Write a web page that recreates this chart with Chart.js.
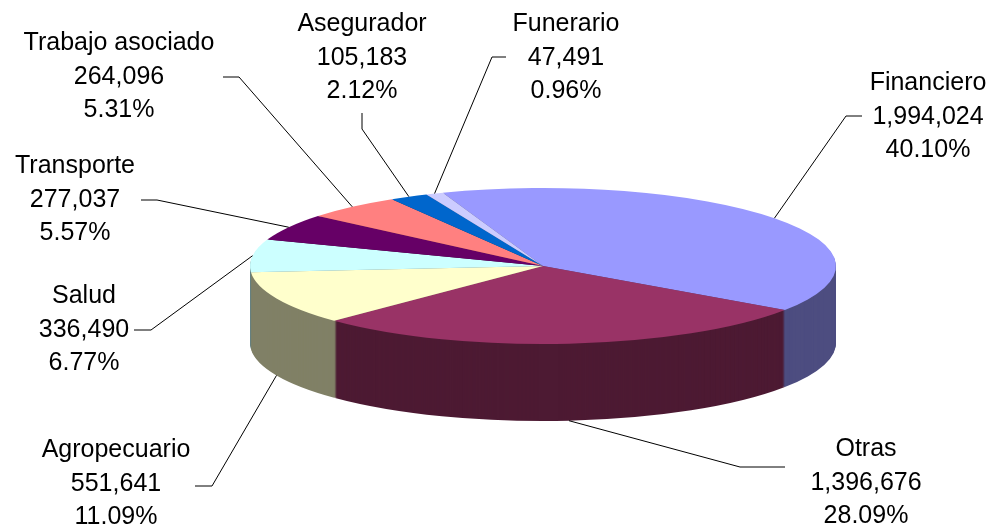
<!DOCTYPE html>
<html>
<head>
<meta charset="utf-8">
<style>
html, body { margin: 0; padding: 0; background: #fff; }
#wrap { width: 995px; height: 532px; }
</style>
<script src="https://cdn.jsdelivr.net/npm/chart.js@4"></script>
</head>
<body>
<div id="wrap"><canvas id="myChart" width="995" height="532"></canvas></div>
<script>
const categories = ["Financiero", "Otras", "Agropecuario", "Salud", "Transporte", "Trabajo asociado", "Asegurador", "Funerario"];
const values = [1994024, 1396676, 551641, 336490, 277037, 264096, 105183, 47491];
const percents = ["40.10%", "28.09%", "11.09%", "6.77%", "5.57%", "5.31%", "2.12%", "0.96%"];
const topColors = ["#9999FF", "#993366", "#FFFFCC", "#CCFFFF", "#660066", "#FF8080", "#0066CC", "#CCCCFF"];
const sideColors = ["#4D4D80", "#4D1A33", "#808066", "#668080", "#330033", "#804040", "#003366", "#666680"];

// label blocks: text centre, first baseline, and the elbow of each leader line
const labelPos = [
    {x: 928, y: 90, line: [[862, 116], [846, 116]]},
    {x: 866, y: 456, line: [[785, 467], [740, 467]]},
    {x: 116, y: 457, line: [[195, 486], [212, 486]]},
    {x: 84, y: 303, line: [[134, 330], [151, 330]]},
    {x: 75, y: 173, line: [[141, 200], [157, 200]]},
    {x: 119, y: 50, line: [[223, 77], [239, 77]]},
    {x: 362, y: 31, line: [[362, 113], [362, 129]]},
    {x: 566, y: 31, line: [[506, 57], [492, 57]]}
];

const radiusX = 293;
const radiusY = 78;
const depth = 77;
const lineGap = 33.5;

function squash(ctx, arc){
    ctx.translate(arc.x, arc.y);
    ctx.scale(radiusX/arc.outerRadius, radiusY/arc.outerRadius);
    ctx.translate(-arc.x, -arc.y);
}

const pie3d = {
    id: "pie3d",
    beforeDatasetsDraw(chart){
        const ctx = chart.ctx;
        const arcs = chart.getDatasetMeta(0).data;
        // side wall: stack of darker copies, bottom layer first
        for(let d=depth; d>0; d--){
            ctx.save();
            ctx.translate(0, d);
            squash(ctx, arcs[0]);
            arcs.forEach((arc, i) => {
                const side = Object.create(arc);
                side.options = Object.assign({}, arc.options, {backgroundColor: sideColors[i]});
                side.draw(ctx);
            });
            ctx.restore();
        }
        ctx.save();
        squash(ctx, arcs[0]);
    },
    afterDatasetsDraw(chart){
        chart.ctx.restore();
    },
    afterDraw(chart){
        const ctx = chart.ctx;
        const arcs = chart.getDatasetMeta(0).data;
        ctx.save();
        ctx.strokeStyle = "#000";
        ctx.lineWidth = 1;
        ctx.fillStyle = "#000";
        ctx.font = "25px 'Liberation Sans'";
        ctx.textAlign = "center";
        arcs.forEach((arc, i) => {
            // leader ends on the rim at the slice's middle angle
            const mid = (arc.startAngle + arc.endAngle)/2;
            const px = arc.x + radiusX*Math.cos(mid);
            let py = arc.y + radiusY*Math.sin(mid);
            if(i === 1 || i === 2){
                py += depth;
            }
            const pts = labelPos[i].line;
            ctx.beginPath();
            ctx.moveTo(pts[0][0], pts[0][1]);
            ctx.lineTo(pts[1][0], pts[1][1]);
            ctx.lineTo(px, py);
            ctx.stroke();

            ctx.fillText(categories[i], labelPos[i].x, labelPos[i].y);
            ctx.fillText(values[i].toLocaleString("en-US"), labelPos[i].x, labelPos[i].y + lineGap);
            ctx.fillText(percents[i], labelPos[i].x, labelPos[i].y + lineGap*2);
        });
        ctx.restore();
    }
};

const chart = new Chart(document.getElementById("myChart"), {
    type: "pie",
    data: {
        labels: categories,
        datasets: [{
            data: values,
            backgroundColor: topColors,
            borderWidth: 0,
            clip: false
        }]
    },
    options: {
        responsive: false,
        animation: false,
        rotation: -20,
        layout: {padding: {left: 91}},
        events: [],
        plugins: {
            legend: {display: false},
            tooltip: {enabled: false}
        }
    },
    plugins: [pie3d]
});
</script>
</body>
</html>
